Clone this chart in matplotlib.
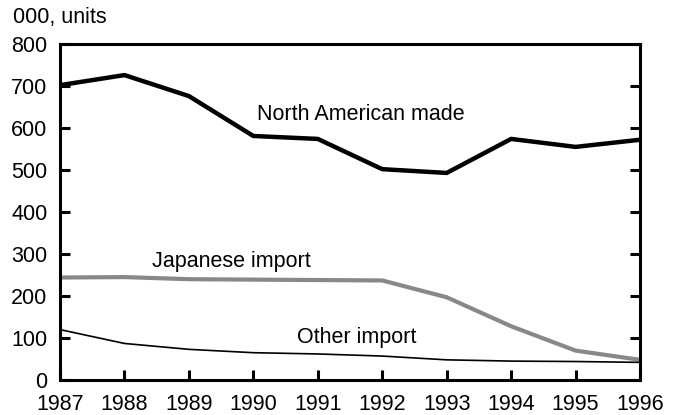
import matplotlib
matplotlib.use("Agg")
import matplotlib.pyplot as plt

# ---------------------------------------
# Data (000, units)
# ---------------------------------------

years = [1987, 1988, 1989, 1990, 1991, 1992, 1993, 1994, 1995, 1996]

north_american = [702, 726, 676, 581, 574, 502, 493, 574, 555, 572]
japanese = [244, 245, 240, 239, 238, 237, 197, 128, 70, 48]
other = [120, 87, 73, 65, 62, 57, 48, 45, 44, 42]

# ---------------------------------------
# Plot
# ---------------------------------------

plt.rcParams["font.family"] = ["Liberation Sans", "DejaVu Sans"]

fig = plt.figure(figsize=(6.73, 4.15), dpi=100)
ax = fig.add_axes([60 / 673, 1 - 380 / 415, 580 / 673, 336 / 415])

ax.plot(years, north_american, color="black", lw=3.2, solid_joinstyle="miter")
ax.plot(years, japanese, color="#888888", lw=3.0)
ax.plot(years, other, color="black", lw=1.2)

ax.set_xlim(1987, 1996)
ax.set_ylim(0, 800)
ax.set_xticks(years)
ax.set_yticks(range(0, 801, 100))

for s in ax.spines.values():
    s.set_linewidth(2.2)

ax.tick_params(axis="both", direction="in", length=7, width=2.2,
               labelsize=15.5, right=True)
ax.tick_params(axis="x", pad=10)
ax.tick_params(axis="y", pad=9)

ax.text(1990.06, 632, "North American made", fontsize=15.5, va="center")
ax.text(1988.43, 281, "Japanese import", fontsize=15.5, va="center")
ax.text(1990.68, 100, "Other import", fontsize=15.5, va="center")

fig.text(13 / 673, 1 - 18 / 415, "000, units", fontsize=15.5, va="center")

plt.savefig("out.png", dpi=100)
